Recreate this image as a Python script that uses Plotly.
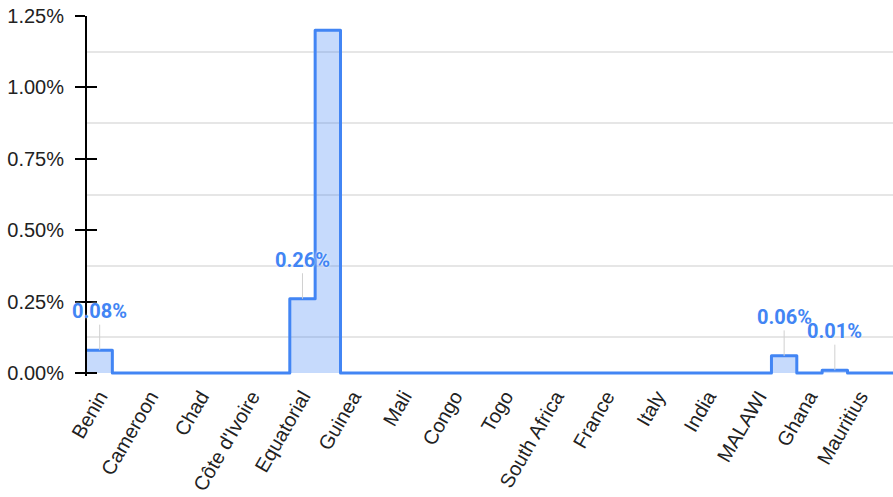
import plotly.graph_objects as go

# 32 categories (only every other label is displayed on the axis)
values = [0.08, 0, 0, 0, 0, 0, 0, 0, 0.26, 1.20, 0, 0, 0, 0, 0, 0,
          0, 0, 0, 0, 0, 0, 0, 0, 0, 0, 0, 0.06, 0, 0.01, 0, 0]
tick_labels = ["Benin", "Cameroon", "Chad", "Côte d'Ivoire", "Equatorial", "Guinea",
               "Mali", "Congo", "Togo", "South Africa", "France", "Italy", "India",
               "MALAWI", "Ghana", "Mauritius"]
annotated_idx = [0, 8, 27, 29]
y_ticks = [0, 0.25, 0.5, 0.75, 1.0, 1.25]

BLUE = "#4285F4"

x_edges = list(range(len(values) + 1))
y_steps = values + [values[-1]]

fig = go.Figure()
fig.add_trace(go.Scatter(
    x=x_edges, y=y_steps, mode="lines", line=dict(color=BLUE, width=3, shape="hv"),
    fill="tozeroy", fillcolor="rgba(66,133,244,0.3)", hoverinfo="skip", showlegend=False,
))
# dummy trace on overlaying axis used to draw inward tick marks
fig.add_trace(go.Scatter(x=[None], y=[None], yaxis="y2", showlegend=False, hoverinfo="skip"))

for i in annotated_idx:
    fig.add_annotation(
        x=i + 0.5, y=values[i], text=f"<b>{values[i]:.2f}%</b>",
        showarrow=True, arrowhead=0, arrowwidth=1, arrowcolor="#d0d0d0",
        ax=0, ay=-39, standoff=0,
        font=dict(family="Roboto", size=20, color=BLUE, shadow="white 0px 0px 3px"),
    )

tick_pos = [2 * k + 0.5 for k in range(len(tick_labels))]
fig.update_layout(
    width=893, height=497,
    margin=dict(l=87, r=0, t=16, b=121),
    plot_bgcolor="white", paper_bgcolor="white",
    font=dict(family="Liberation Sans, Arial", size=20, color="#222222"),
    xaxis=dict(
        range=[0, 806 / 25.35], tickvals=tick_pos, ticktext=tick_labels, tickangle=-60,
        showgrid=False, zeroline=False, showline=False, ticks="", automargin=False,
        ticklabelstandoff=4,
        tickfont=dict(size=20, color="#222222"),
    ),
    yaxis=dict(
        range=[-0.0105, 1.25], tickvals=y_ticks, ticktext=[f"{v:.2f}%" for v in y_ticks],
        showgrid=False, zeroline=False, showline=True, linecolor="black", linewidth=2,
        ticks="outside", ticklen=10, tickwidth=2, tickcolor="black",
        ticklabelstandoff=7, automargin=False,
        minor=dict(tick0=0.125, dtick=0.25, showgrid=True, gridcolor="#e6e6e6", gridwidth=1.5, ticks=""),
        tickfont=dict(size=20, color="#222222"),
    ),
    yaxis2=dict(
        overlaying="y", matches="y", side="left", tickvals=y_ticks, showticklabels=False,
        ticks="inside", ticklen=10, tickwidth=2, tickcolor="black", automargin=False,
        showgrid=False, zeroline=False, showline=False,
    ),
)

post = (
    "document.body.style.margin='0';"
    "document.querySelectorAll('.js-line').forEach(function(p){"
    "p.style.strokeLinejoin='round';p.style.strokeLinecap='round';});"
)
fig.write_html("out.html", config={"displayModeBar": False}, post_script=post)
